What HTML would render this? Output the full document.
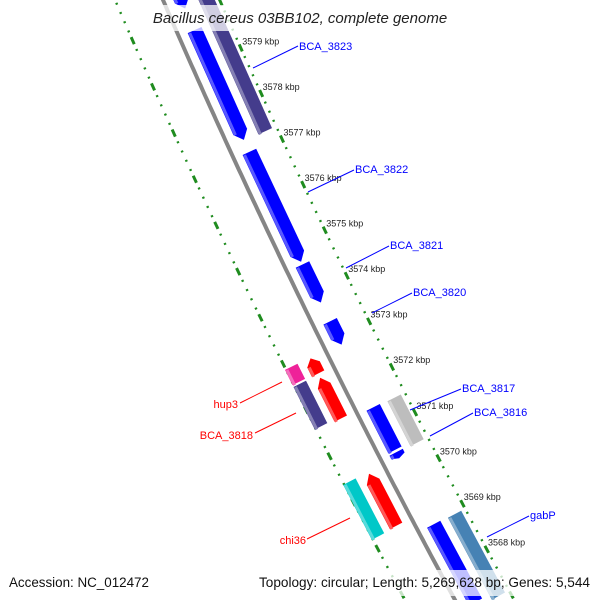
<!DOCTYPE html>
<html><head><meta charset="utf-8"><style>
html,body{margin:0;background:#fff;width:600px;height:600px;overflow:hidden}
svg{display:block;font-family:"Liberation Sans",sans-serif}
</style></head><body>
<svg id="map" width="600" height="600" viewBox="0 0 600 600" xmlns="http://www.w3.org/2000/svg">
<g id="rings"></g>
<g id="backbone"></g>
<g id="genes"></g>
<g id="ticklabels"></g>
<g font-size="11">
<g><line x1="253" y1="68" x2="298" y2="46" stroke="#0000ff"/><text x="299" y="50" fill="#0000ff">BCA_3823</text></g>
<g><line x1="308" y1="192" x2="354" y2="170" stroke="#0000ff"/><text x="355" y="173" fill="#0000ff">BCA_3822</text></g>
<g><line x1="346" y1="268" x2="389" y2="246" stroke="#0000ff"/><text x="390" y="249" fill="#0000ff">BCA_3821</text></g>
<g><line x1="372" y1="313" x2="412" y2="293" stroke="#0000ff"/><text x="413" y="296" fill="#0000ff">BCA_3820</text></g>
<g><line x1="410" y1="410" x2="461" y2="389" stroke="#0000ff"/><text x="462" y="392" fill="#0000ff">BCA_3817</text></g>
<g><line x1="430" y1="436" x2="473" y2="413" stroke="#0000ff"/><text x="474" y="416" fill="#0000ff">BCA_3816</text></g>
<g><line x1="487" y1="537" x2="529" y2="516" stroke="#0000ff"/><text x="530" y="519" fill="#0000ff">gabP</text></g>
<g><line x1="240" y1="403" x2="282" y2="382" stroke="#ff0000"/><text x="238" y="408" fill="#ff0000" text-anchor="end">hup3</text></g>
<g><line x1="255" y1="433" x2="296" y2="413" stroke="#ff0000"/><text x="253" y="439" fill="#ff0000" text-anchor="end">BCA_3818</text></g>
<g><line x1="307" y1="539" x2="350" y2="518" stroke="#ff0000"/><text x="306" y="544" fill="#ff0000" text-anchor="end">chi36</text></g>
</g>
<rect x="148" y="5" width="305" height="26" fill="#fff" opacity="0.75"/>
<text x="300" y="23" text-anchor="middle" font-size="15" font-style="italic" fill="#222">Bacillus cereus 03BB102, complete genome</text>
<rect x="0" y="570" width="600" height="26" fill="#fff" opacity="0.75"/>
<text x="9" y="587" font-size="13.4" fill="#111">Accession: NC_012472</text>
<text x="590" y="587" font-size="13.6" fill="#111" text-anchor="end">Topology: circular; Length: 5,269,628 bp; Genes: 5,544</text>
</svg>
<script>
const tickKbp = [3579,3578,3577,3576,3575,3574,3573,3572,3571,3570,3569,3568];
const geneNames = ["top-gene","bca-3823-a","bca-3823-b","bca-3822","bca-3821","bca-3820","bca-3817","bca-3817-tail","bca-3816","gabp-a","gabp-b","hup3-a","hup3-b","bca-3818","bca-3818-red","chi36","chi36-red"];
const geneStart = [3580.94,3579.70,3580.29,3577.04,3574.58,3573.34,3571.46,3570.48,3571.44,3568.91,3568.89,3572.88,3572.86,3572.51,3572.44,3570.39,3570.35];
const geneEnd   = [3580.17,3577.30,3577.28,3574.64,3573.75,3572.83,3570.53,3570.35,3570.46,3567.21,3567.10,3572.55,3572.53,3571.59,3571.55,3569.20,3569.22];
const geneTrack = [1,1,2,1,1,1,1,1,2,1,2,-2,-1,-2,-1,-2,-1];
const geneColor = ["#0000ff","#0000ff","#443c8c","#0000ff","#0000ff","#0000ff","#0000ff","#0000ff","#bdbdbd","#0000ff","#4682b4","#ee2299","#ff0000","#443c8c","#ff0000","#00c8c8","#ff0000"];
const geneArrow = ["end","end","none","end","end","end","none","end","none","none","none","none","start","none","start","none","start"];

const NS="http://www.w3.org/2000/svg";
function bx(s){return 163+0.4317*s+9.17e-5*s*s;}
function pt(s,d){const dx=0.4317+2*9.17e-5*s;const n=Math.hypot(dx,1);return [bx(s)+d/n,s-d*dx/n];}
function sOf(k){return 69+(3579-k)*45.9;}
const trackD={1:17,2:40,"-1":-17,"-2":-38};
function mk(tag,attrs,parent){const e=document.createElementNS(NS,tag);for(const a in attrs)e.setAttribute(a,attrs[a]);parent.appendChild(e);return e;}

const bb=document.getElementById('backbone');
let dpath="";for(let s=-20;s<=620;s+=5){const p=pt(s,0);dpath+=(s===-20?"M":"L")+p[0].toFixed(1)+" "+p[1].toFixed(1);}
const bl=mk('path',{d:dpath,stroke:"#858585","stroke-width":4,fill:"none"},bb);



const rg=document.getElementById('rings');
[52,-44].forEach(function(d){
  for(let k=3582;k>=3566;k-=0.2){
    const s=sOf(k);const major=Math.abs(k-Math.round(k))<0.01;
    const len=major?3.5:0.9;
    const a=pt(s-len,d),b=pt(s+len,d);
    const t=mk('line',{x1:a[0],y1:a[1],x2:b[0],y2:b[1],stroke:"#1f8c1f","stroke-width":major?3:2.4},rg);
    
    
  }
});

const tl=document.getElementById('ticklabels');
tickKbp.forEach(function(k){
  const p=pt(sOf(k),58);
  const t=mk('text',{x:p[0]-4,y:p[1]-1,"font-size":"9",fill:"#222"},tl);
  t.textContent=k+" kbp";
  
  
});

const gg=document.getElementById('genes');
function shade(c){const n=parseInt(c.slice(1),16);let r=n>>16,g=(n>>8)&255,b=n&255;r=Math.round(r+(255-r)*0.35);g=Math.round(g+(255-g)*0.35);b=Math.round(b+(255-b)*0.35);return "rgb("+r+","+g+","+b+")";}
geneNames.forEach(function(name,i){
  const d=trackD[geneTrack[i]];const w=geneTrack[i]>0?15:14;
  let s0=sOf(geneStart[i]),s1=sOf(geneEnd[i]);
  const ah=Math.min(8,(s1-s0)*0.4);
  const pts=[];
  if(geneArrow[i]==="start"){pts.push(pt(s0,d));pts.push(pt(s0+ah,d+w/2));pts.push(pt(s1,d+w/2));pts.push(pt(s1,d-w/2));pts.push(pt(s0+ah,d-w/2));}
  else if(geneArrow[i]==="end"){pts.push(pt(s0,d-w/2));pts.push(pt(s0,d+w/2));pts.push(pt(s1-ah,d+w/2));pts.push(pt(s1,d));pts.push(pt(s1-ah,d-w/2));}
  else {pts.push(pt(s0,d-w/2));pts.push(pt(s0,d+w/2));pts.push(pt(s1,d+w/2));pts.push(pt(s1,d-w/2));}
  const g=mk('g',{},gg);
  
  
  mk('polygon',{points:pts.map(p=>p[0].toFixed(1)+","+p[1].toFixed(1)).join(" "),fill:geneColor[i]},g);
  const a=pt(s0+(geneArrow[i]==="start"?ah:0),d-w/2),b=pt(s1-(geneArrow[i]==="end"?ah:0),d-w/2);
  mk('line',{x1:a[0]+2,y1:a[1],x2:b[0]+2,y2:b[1],stroke:shade(geneColor[i]),"stroke-width":3},g);
});
</script>
</body></html>
